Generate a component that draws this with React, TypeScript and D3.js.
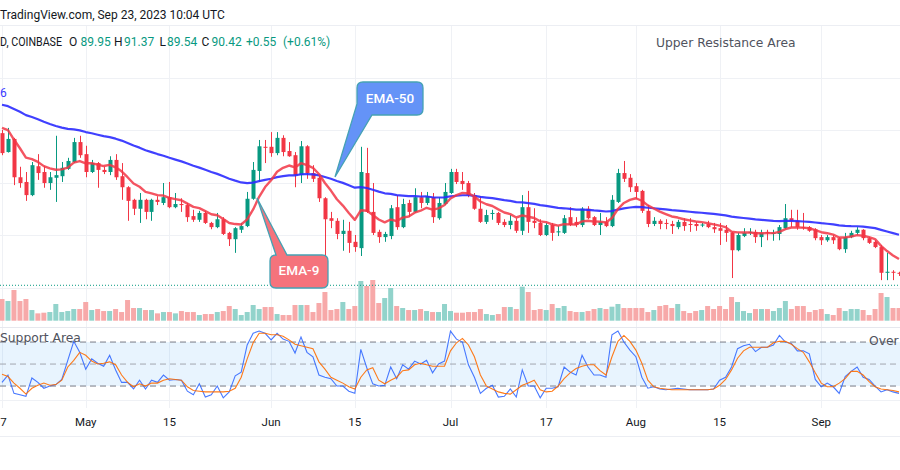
import React from "react";
import * as d3 from "d3";

// ---------- DATA ----------
const startDate = new Date(Date.UTC(2023, 3, 17));
const endDate = new Date(Date.UTC(2023, 8, 14));
const dates = d3.utcDay.range(startDate, d3.utcDay.offset(endDate, 1));

const open = [119.4,115.8,118.3,111.0,110.1,107.6,113.1,112.0,109.9,110.9,
111.2,112.6,113.9,117.7,115.4,112.0,113.7,112.4,112.0,114.3,
111.2,109.1,106.7,105.0,106.7,104.4,106.7,106.1,107.2,105.3,
105.9,105.7,103.6,102.9,104.2,102.3,101.5,103.0,100.4,99.2,
101.0,101.7,106.9,112.2,116.8,116.8,115.6,118.5,116.0,115.2,
111.4,116.9,111.8,110.9,107.0,103.2,102.7,100.2,100.8,98.7,
97.5,111.8,104.4,100.6,99.6,99.8,105.3,101.5,106.1,104.4,
107.2,106.1,107.2,103.2,105.9,108.0,112.0,110.3,109.9,107.6,
105.0,102.5,104.0,104.2,102.5,101.9,102.7,100.8,105.3,102.7,
102.3,100.0,101.9,100.5,100.4,103.4,102.5,101.9,105.0,103.4,
101.9,102.5,101.7,106.3,111.8,110.9,109.3,108.4,104.6,102.1,
102.7,102.3,102.1,101.5,102.5,102.1,102.1,101.8,102.1,101.5,
101.3,101.0,100.4,97.1,99.8,100.4,100.6,99.6,100.6,100.3,
100.2,101.3,103.2,102.7,101.5,101.5,101.1,99.6,99.0,99.6,
99.4,97.3,99.6,100.4,101.0,99.4,98.7,97.7,92.8,93.0,
92.8];

const close = [115.6,118.3,111.0,109.9,107.6,113.3,111.8,109.9,111.0,111.4,
112.8,114.1,117.7,115.2,112.0,113.7,112.4,112.0,114.3,111.0,
109.1,106.5,105.0,106.7,104.4,106.7,106.3,107.2,105.3,105.9,
105.7,103.4,102.9,104.2,102.3,101.5,103.0,100.2,99.2,101.3,
101.7,106.9,112.4,116.9,116.6,115.6,118.5,115.8,115.0,111.4,
116.9,111.8,110.7,107.0,103.0,102.7,100.2,100.8,98.5,97.7,
112.0,104.4,100.4,99.6,100.2,105.1,101.5,105.9,104.4,107.2,
106.1,107.4,103.4,106.1,108.2,112.0,110.1,109.7,107.6,105.0,
102.5,103.8,104.2,102.3,101.9,102.7,100.8,105.3,102.5,102.3,
100.0,101.9,100.4,100.7,103.2,101.9,101.9,105.0,103.2,101.9,
102.5,101.7,106.7,111.8,110.7,109.1,108.2,104.6,102.1,102.7,
102.1,102.1,101.7,102.5,101.7,101.9,101.7,102.0,101.5,101.1,
100.8,100.4,97.1,100.0,100.4,100.6,99.6,100.4,100.4,100.4,
101.5,103.2,102.7,101.5,101.3,100.8,99.4,99.0,99.6,99.0,
97.3,99.6,100.4,101.0,99.4,98.5,97.7,92.8,93.0,92.8,
92.6];

const high = [120.0,120.4,118.5,113.0,112.0,113.9,115.4,113.1,112.0,118.9,
113.9,114.7,118.5,118.9,117.0,114.3,113.9,113.0,115.0,115.4,
113.7,109.3,106.9,108.0,106.9,106.9,107.4,109.9,110.1,108.0,
107.0,106.1,104.8,104.6,104.6,102.5,104.2,103.4,100.6,101.5,
102.3,108.2,113.9,118.1,118.1,119.6,119.6,119.0,117.7,115.8,
117.9,117.1,113.3,111.4,107.2,104.4,103.2,102.9,102.5,100.0,
116.8,116.6,109.9,101.0,100.6,105.7,107.6,106.9,106.7,108.9,
108.2,108.2,108.0,107.2,109.9,112.6,112.6,112.0,110.3,108.0,
107.4,104.8,104.8,104.4,103.0,103.8,103.2,107.6,108.4,105.1,
103.0,102.3,102.3,101.7,103.8,105.3,103.4,105.3,105.5,103.6,
104.2,103.4,107.6,112.6,114.1,111.6,109.9,108.6,105.7,103.4,
103.0,103.0,102.7,102.9,103.2,103.2,102.5,102.3,102.7,102.3,
102.3,101.9,100.6,100.4,101.3,101.3,101.0,101.0,101.0,101.0,
101.9,105.9,104.8,104.8,104.2,101.7,101.3,100.0,100.0,100.0,
99.6,100.4,100.8,101.5,101.1,99.6,99.0,98.1,96.6,93.3,
93.0];

const low = [115.2,115.7,109.5,109.0,106.5,107.4,110.5,109.0,108.6,106.3,
110.1,112.4,113.7,114.7,111.0,111.8,109.0,111.6,111.4,110.5,
106.7,102.7,103.8,102.3,103.0,102.7,105.7,105.7,105.1,105.1,
104.4,102.5,102.5,102.5,102.1,101.1,101.3,100.0,97.9,96.6,
100.4,101.5,106.7,110.1,113.7,114.9,115.2,115.0,114.9,109.1,
109.9,110.7,110.1,106.3,95.6,101.3,99.2,97.0,96.6,96.8,
96.0,104.2,100.0,98.5,98.7,99.2,101.0,101.3,103.4,104.2,
105.1,105.7,102.3,102.9,105.7,107.8,109.7,108.6,107.2,104.8,
102.3,102.1,102.9,101.9,101.5,101.1,100.4,100.0,100.4,101.3,
99.8,99.8,98.9,99.8,100.2,101.7,101.5,101.5,103.0,101.7,
100.0,101.5,101.5,106.1,110.1,108.2,106.9,104.2,101.5,101.7,
101.1,101.1,100.2,101.1,100.8,100.6,100.8,101.5,101.3,100.4,
98.1,98.7,91.8,96.9,99.6,100.0,98.5,97.7,99.0,98.9,
99.0,101.1,101.5,101.0,101.0,100.6,99.0,98.1,98.7,98.3,
97.1,96.6,99.4,100.0,99.0,98.3,97.5,91.4,91.4,91.4,
92.2];

const volume = [650,590,920,590,650,320,220,240,260,500,
260,290,350,350,560,320,350,290,290,350,
260,620,380,380,320,320,220,260,260,220,
290,260,260,170,200,200,260,290,440,350,
170,260,470,350,410,410,200,170,170,470,
470,470,260,530,860,320,350,560,350,440,
1190,1040,1220,530,680,980,440,380,320,320,
350,290,260,260,500,290,240,240,260,260,
350,200,170,200,410,410,350,1020,860,320,
350,320,500,380,440,290,260,260,290,350,
380,350,420,500,380,380,380,380,260,320,
440,470,380,500,290,230,290,320,440,350,
440,350,710,560,290,230,350,350,350,290,
380,590,350,440,440,260,320,350,200,170,
380,290,350,350,320,170,350,830,710,380,
380];

const stochK = [25,35,10,8,6,31,25,17,20,22,
29,55,81,66,43,57,51,47,62,42,
25,25,16,28,16,28,25,35,28,29,
28,13,8,23,5,8,20,4,12,34,
39,76,92,95,92,83,92,84,81,65,
87,66,60,35,32,30,20,20,13,10,
70,45,23,20,21,46,30,49,43,54,
50,55,38,50,54,95,84,80,49,32,
10,17,21,5,6,16,5,42,20,20,
4,17,17,19,46,39,35,62,46,35,
35,32,90,95,80,69,60,32,17,19,
16,15,16,17,16,15,15,15,15,16,
28,32,46,71,75,77,67,73,73,76,
89,80,78,68,68,64,29,19,24,19,
10,33,40,46,32,29,20,12,15,12,
10];

const stochD = [36,33,24,17,9,17,21,24,21,22,
28,46,55,66,62,54,50,51,53,49,
35,25,19,23,20,24,24,28,30,29,
28,19,14,13,12,12,12,12,13,17,
32,57,79,92,92,90,90,88,83,77,
75,73,71,53,43,32,28,24,19,16,
32,42,45,28,23,28,32,41,42,49,
51,49,47,47,47,68,79,85,76,60,
35,20,16,12,10,9,15,21,24,28,
15,12,13,20,30,38,44,47,49,49,
41,35,60,81,89,81,69,51,28,19,
17,16,15,15,15,15,15,15,15,16,
21,29,42,58,68,73,73,73,73,79,
81,81,77,71,66,53,38,24,19,19,
24,30,40,40,35,26,19,16,15,14,
12];

const ema9Start = 120.4;
const ema50Start = 124.8;
const lastClose = 90.42;

const tickDates = [
  [2023, 3, 17], [2023, 4, 1], [2023, 4, 15], [2023, 5, 1], [2023, 5, 15],
  [2023, 6, 1], [2023, 6, 17], [2023, 7, 1], [2023, 7, 15], [2023, 8, 1],
].map(([y, m, d]) => new Date(Date.UTC(y, m, d)));
const tickLabels = ["7", "May", "15", "Jun", "15", "Jul", "17", "Aug", "15", "Sep"];
const priceGrid = [90, 100, 110, 120, 130, 140];
const stochBands = [80, 50, 20];

// ---------- HELPERS ----------
function ema(values: number[], period: number, start: number) {
  const k = 2 / (period + 1);
  const out = [start];
  for (let i = 1; i < values.length; i++) out.push(out[i - 1] + k * (values[i] - out[i - 1]));
  return out;
}

const GREEN = "#089981";
const RED = "#f23645";
const FONT = "Roboto, 'Liberation Sans', sans-serif";
const NOTE_FONT = "'DejaVu Sans', sans-serif";

export default function App() {
  const x = d3.scaleTime().domain([dates[0], dates[dates.length - 1]]).range([2, 899]);
  const y = d3.scaleLinear().domain([100, 130]).range([235, 77.5]);
  const yv = d3.scaleLinear().domain([0, 1220]).range([320.7, 280]);
  const ys = d3.scaleLinear().domain([0, 100]).range([400.7, 327.4]);

  const ema9 = ema(close, 9, ema9Start);
  const ema50 = ema(close, 50, ema50Start);

  const idx = dates.map((_, i) => i);
  const priceLine = (arr: number[]) =>
    d3.line<number>().x((i) => x(dates[i])).y((i) => y(arr[i]))(idx) || "";
  const stochLine = (arr: number[]) =>
    d3.line<number>().x((i) => x(dates[i])).y((i) => ys(arr[i]))(idx) || "";

  return (
    <svg width={900} height={470} style={{ position: "absolute", left: 0, top: 0, background: "#fff" }}
      xmlns="http://www.w3.org/2000/svg">
      <rect x={0} y={0} width={900} height={470} fill="#ffffff" />
      {/* vertical grid */}
      {tickDates.map((d, i) => (
        <line key={"vg" + i} x1={Math.round(x(d)) + 0.5} x2={Math.round(x(d)) + 0.5} y1={25} y2={408}
          stroke="#eff1f5" strokeWidth={1} />
      ))}
      {/* horizontal grid main */}
      {priceGrid.map((p) => (
        <line key={"hg" + p} x1={0} x2={900} y1={Math.round(y(p)) + 0.5} y2={Math.round(y(p)) + 0.5}
          stroke="#eff1f5" strokeWidth={1} />
      ))}
      {/* pane separator */}
      <line x1={0} x2={900} y1={327.5} y2={327.5} stroke="#e6e8ee" strokeWidth={1} />
      <line x1={0} x2={900} y1={400.5} y2={400.5} stroke="#eff1f5" strokeWidth={1} />

      {/* volume */}
      <g>
        {volume.map((v, i) => {
          const cx = x(dates[i]);
          const up = close[i] >= open[i];
          return (
            <rect key={"v" + i} x={cx - 2.5} width={5} y={yv(v)} height={yv(0) - yv(v)}
              fill={up ? "#92d3cb" : "#f7a9a9"} />
          );
        })}
      </g>

      {/* price line */}
      <line x1={0} x2={900} y1={y(lastClose)} y2={y(lastClose)} stroke={GREEN} strokeWidth={1}
        strokeDasharray="1,2" />

      {/* candles */}
      <g>
        {dates.map((d, i) => {
          const cx = Math.round(x(d));
          const up = close[i] >= open[i];
          const col = up ? GREEN : RED;
          const top = y(Math.max(open[i], close[i]));
          const bot = y(Math.min(open[i], close[i]));
          const hi = y(Math.max(high[i], open[i], close[i]));
          const lo = y(Math.min(low[i], open[i], close[i]));
          return (
            <g key={"c" + i}>
              <line x1={cx + 0.5} x2={cx + 0.5} y1={hi} y2={lo} stroke={col} strokeWidth={1} />
              <rect x={cx - 1.5} width={4} y={top} height={Math.max(1, bot - top)} fill={col} />
            </g>
          );
        })}
      </g>

      {/* EMAs */}
      <path d={priceLine(ema50)} fill="none" stroke="#2b2bff" strokeWidth={2.2} strokeOpacity={0.9}
        strokeLinejoin="round" />
      <path d={priceLine(ema9)} fill="none" stroke="#f23645" strokeWidth={2.4} strokeOpacity={0.85}
        strokeLinejoin="round" />

      {/* stoch pane */}
      <rect x={0} y={ys(80)} width={900} height={ys(20) - ys(80)} fill="rgba(33,150,243,0.1)" />
      {stochBands.map((b) => (
        <line key={"sb" + b} x1={0} x2={900} y1={ys(b)} y2={ys(b)}
          stroke={b === 50 ? "#a3a6af" : "#787b86"} strokeWidth={1} strokeDasharray="6,4" />
      ))}
      <path d={stochLine(stochK)} fill="none" stroke="#2962ff" strokeWidth={1.1} strokeOpacity={0.85} />
      <path d={stochLine(stochD)} fill="none" stroke="#ff6d00" strokeWidth={1.1} strokeOpacity={0.9} />

      {/* header */}
      <line x1={0} x2={900} y1={25.5} y2={25.5} stroke="#eceef3" strokeWidth={1} />
      <text x={0} y={18.5} fontFamily={FONT} fontSize={12} fill="#131722">
        TradingView.com, Sep 23, 2023 10:04 UTC
      </text>
      <text x={0} y={45.5} fontFamily={FONT} fontSize={12} fill="#131722" textLength={62}
        lengthAdjust="spacingAndGlyphs">
        D, COINBASE
      </text>
      <text y={45.5} fontFamily={FONT} fontSize={12} fill="#131722">
        <tspan x={69}>O</tspan><tspan x={80.5} fill={GREEN}>89.95</tspan>
        <tspan x={114}>H</tspan><tspan x={124} fill={GREEN}>91.37</tspan>
        <tspan x={159.5}>L</tspan><tspan x={167} fill={GREEN}>89.54</tspan>
        <tspan x={201.5}>C</tspan><tspan x={211.5} fill={GREEN}>90.42</tspan>
        <tspan x={246} fill={GREEN}>+0.55</tspan><tspan x={283} fill={GREEN}>(+0.61%)</tspan>
      </text>
      <text x={0} y={97} fontFamily={FONT} fontSize={12} fill="#3b3bff">6</text>

      <text x={656} y={46.5} fontFamily={NOTE_FONT} fontSize={12.3} fill="#50535e">
        Upper Resistance Area
      </text>
      <text x={0} y={342} fontFamily={NOTE_FONT} fontSize={12.3} fill="#50535e">
        Support Area
      </text>
      <text x={869} y={345} fontFamily={NOTE_FONT} fontSize={12.3} fill="#50535e">
        Over
      </text>

      {/* callouts */}
      <path d="M 363 82 H 417 Q 423 82 423 88 V 109 Q 423 115 417 115 H 372 L 335 177 L 357 104 V 88 Q 357 82 363 82 Z"
        fill="#6493f7" stroke="#45a2b4" strokeWidth={1.3} />
      <text x={390} y={103} textAnchor="middle" fontFamily={FONT} fontSize={13.5} fontWeight={500} fill="#ffffff">
        EMA-50
      </text>
      <path d="M 276 255 L 257 198 L 287 255 H 322 Q 328 255 328 261 V 282 Q 328 288 322 288 H 276 Q 270 288 270 282 V 261 Q 270 255 276 255 Z"
        fill="#f5737c" stroke="#45a2b4" strokeWidth={1.3} />
      <text x={299} y={274.5} textAnchor="middle" fontFamily={FONT} fontSize={13.5} fontWeight={500} fill="#ffffff">
        EMA-9
      </text>

      {/* x axis labels */}
      {tickDates.map((d, i) => (
        <text key={"xl" + i} x={Math.max(x(d), 3.5)} y={426} textAnchor="middle" fontFamily={FONT}
          fontSize={11.5} fill="#131722">
          {tickLabels[i]}
        </text>
      ))}
      <line x1={0} x2={900} y1={436.5} y2={436.5} stroke="#eceef3" strokeWidth={1} />
    </svg>
  );
}
